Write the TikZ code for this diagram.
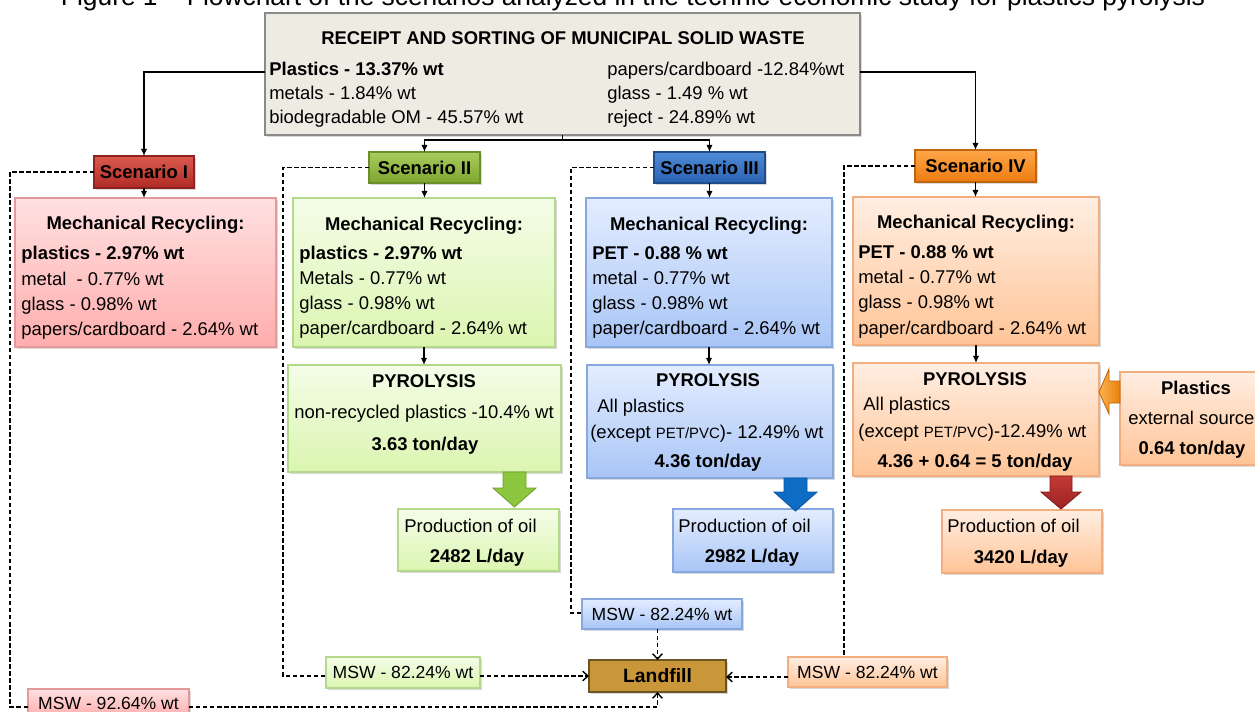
\documentclass[tikz,border=0pt]{standalone}
\usepackage{fontspec}
\setmainfont{Liberation Sans}
\usetikzlibrary{arrows.meta,shadows,fit,calc}
\definecolor{topfill}{HTML}{EEEBE2}\definecolor{topedge}{HTML}{8A8A8A}
\definecolor{redA}{HTML}{DB5B4F}\definecolor{redB}{HTML}{B02A25}\definecolor{redE}{HTML}{8C2320}
\definecolor{grnA}{HTML}{A9CC5E}\definecolor{grnB}{HTML}{7EA52F}\definecolor{grnE}{HTML}{6B8E2A}
\definecolor{bluA}{HTML}{4F8BD6}\definecolor{bluB}{HTML}{2A62B2}\definecolor{bluE}{HTML}{1F4C8A}
\definecolor{orgA}{HTML}{FFA647}\definecolor{orgB}{HTML}{EC7C12}\definecolor{orgE}{HTML}{C0650F}
\definecolor{pinkA}{HTML}{FFE0E0}\definecolor{pinkB}{HTML}{FFADAD}\definecolor{pinkE}{HTML}{E49A9A}
\definecolor{lgA}{HTML}{F4FDE8}\definecolor{lgB}{HTML}{DBF5B0}\definecolor{lgE}{HTML}{B5D98A}
\definecolor{lbA}{HTML}{E4EDFF}\definecolor{lbB}{HTML}{A8C5F6}\definecolor{lbE}{HTML}{86A8DE}
\definecolor{loA}{HTML}{FFEEE2}\definecolor{loB}{HTML}{FFC496}\definecolor{loE}{HTML}{F2AE7E}
\definecolor{land}{HTML}{C9963A}\definecolor{landE}{HTML}{6B5424}
\definecolor{garr}{HTML}{8DC63F}\definecolor{garrE}{HTML}{6FA030}
\definecolor{barr}{HTML}{0E6CC4}
\definecolor{rarrA}{HTML}{C23A33}\definecolor{rarrB}{HTML}{9C2424}
\definecolor{oarrA}{HTML}{FFB24F}\definecolor{oarrB}{HTML}{E8800C}
\begin{document}
\begin{tikzpicture}[x=0.02cm,y=-0.02cm,
  every node/.style={font=\fontsize{10.5}{12}\selectfont},
  box/.style={inner sep=0pt, outer sep=0pt, draw, line width=0.6pt,
    drop shadow={shadow xshift=1.2pt,shadow yshift=-1.2pt,opacity=0.3}},
  topbox/.style={box, draw=topedge, fill=topfill},
  redS/.style={box, draw=redE, top color=redA, bottom color=redB},
  grnS/.style={box, draw=grnE, top color=grnA, bottom color=grnB},
  bluS/.style={box, draw=bluE, top color=bluA, bottom color=bluB},
  orgS/.style={box, draw=orgE, top color=orgA, bottom color=orgB},
  pinkbox/.style={box, draw=pinkE, top color=pinkA, bottom color=pinkB},
  lgbox/.style={box, draw=lgE, top color=lgA, bottom color=lgB},
  lbbox/.style={box, draw=lbE, top color=lbA, bottom color=lbB},
  lobox/.style={box, draw=loE, top color=loA, bottom color=loB},
  mswtxt/.style={inner sep=0pt, anchor=center, font=\fontsize{10}{11}\selectfont},
  ctr/.style={inner sep=0pt, anchor=center, font=\fontsize{10.5}{12}\bfseries},
  tl/.style={inner sep=0pt, anchor=base west},
  tc/.style={inner sep=0pt, anchor=base},
  bf/.style={font=\fontsize{10.5}{12}\bfseries},
  sol/.style={line width=1.1pt, -{Latex[length=4pt,width=3.6pt]}},
  dsh/.style={line width=0.8pt, dash pattern=on 2.5pt off 1.5pt},
  dsharr/.style={dsh, -{Straight Barb[length=3pt,width=5.5pt]}}
]
\useasboundingbox (0,0) rectangle (1255,711);
\clip (0,0) rectangle (1255,711);

% title (cut by the top edge)
\node[tc, font=\fontsize{15}{18}\selectfont] (title) at (633,5.5)
  {Figure 1 -- Flowchart of the scenarios analyzed in the technic-economic study for plastics pyrolysis};

% top box
\node[topbox, fit={(265,13)(860,135)}] (top) {};
\node[tc, bf] (toptitle) at (563,44) {RECEIPT AND SORTING OF MUNICIPAL SOLID WASTE};
\node[tl, bf] (tl1) at (269,75) {Plastics - 13.37\% wt};
\node[tl] (tl2) at (269,99) {metals - 1.84\% wt};
\node[tl] (tl3) at (269,123) {biodegradable OM - 45.57\% wt};
\node[tl] (tr1) at (607,75) {papers/cardboard -12.84\%wt};
\node[tl] (tr2) at (607,99) {glass - 1.49 \% wt};
\node[tl] (tr3) at (607,123) {reject - 24.89\% wt};

% scenario headers
\node[redS, fit={(94,156)(194,188)}] (s1) {};
\node[ctr] (s1t) at (s1.center) {Scenario I};
\node[grnS, fit={(369,152)(480,183)}] (s2) {};
\node[ctr] (s2t) at (s2.center) {Scenario II};
\node[bluS, fit={(654,152)(765,183)}] (s3) {};
\node[ctr] (s3t) at (s3.center) {Scenario III};
\node[orgS, fit={(915,150)(1036,182)}] (s4) {};
\node[ctr] (s4t) at (s4.center) {Scenario IV};

% mechanical recycling boxes
\node[pinkbox, fit={(15,198)(276,347)}] (m1) {};
\node[tc, bf] (m1h) at (145.5,229) {Mechanical Recycling:};
\node[tl, bf] (m1a) at (21,259) {plastics - 2.97\% wt};
\node[tl] (m1b) at (21,285) {metal \ - 0.77\% wt};
\node[tl] (m1c) at (21,310) {glass - 0.98\% wt};
\node[tl] (m1d) at (21,335) {papers/cardboard - 2.64\% wt};

\node[lgbox, fit={(293,198)(555,347)}] (m2) {};
\node[tc, bf] (m2h) at (424,230) {Mechanical Recycling:};
\node[tl, bf] (m2a) at (299,259) {plastics - 2.97\% wt};
\node[tl] (m2b) at (299,284) {Metals - 0.77\% wt};
\node[tl] (m2c) at (299,309) {glass - 0.98\% wt};
\node[tl] (m2d) at (299,334) {paper/cardboard - 2.64\% wt};

\node[lbbox, fit={(586,198)(832,347)}] (m3) {};
\node[tc, bf] (m3h) at (709,230) {Mechanical Recycling:};
\node[tl, bf] (m3a) at (592,259) {PET - 0.88 \% wt};
\node[tl] (m3b) at (592,284) {metal - 0.77\% wt};
\node[tl] (m3c) at (592,309) {glass - 0.98\% wt};
\node[tl] (m3d) at (592,334) {paper/cardboard - 2.64\% wt};

\node[lobox, fit={(853,197)(1099,345)}] (m4) {};
\node[tc, bf] (m4h) at (976,228) {Mechanical Recycling:};
\node[tl, bf] (m4a) at (858,258) {PET - 0.88 \% wt};
\node[tl] (m4b) at (858,283) {metal - 0.77\% wt};
\node[tl] (m4c) at (858,308) {glass - 0.98\% wt};
\node[tl] (m4d) at (858,334) {paper/cardboard - 2.64\% wt};

% pyrolysis boxes
\node[lgbox, fit={(288,365)(561,472)}] (p2) {};
\node[tc, bf] (p2h) at (424,387) {PYROLYSIS};
\node[tc] (p2a) at (424,418) {non-recycled plastics -10.4\% wt};
\node[tc, bf] (p2b) at (425,450) {3.63 ton/day};

\node[lbbox, fit={(587,365)(833,478)}] (p3) {};
\node[tc, bf] (p3h) at (708,386) {PYROLYSIS};
\node[tl] (p3a) at (597,412) {All plastics};
\node[tl] (p3b) at (590,438) {(except {\fontsize{8.5}{10}\selectfont PET/PVC})- 12.49\% wt};
\node[tc, bf] (p3c) at (708,467) {4.36 ton/day};

\node[lobox, fit={(853,363)(1099,476)}] (p4) {};
\node[tc, bf] (p4h) at (975,385) {PYROLYSIS};
\node[tl] (p4a) at (863,410) {All plastics};
\node[tl] (p4b) at (858,437) {(except {\fontsize{8.5}{10}\selectfont PET/PVC})-12.49\% wt};
\node[tc, bf] (p4c) at (975,467) {4.36 + 0.64 = 5 ton/day};

% external source
\node[lobox, fit={(1120,372)(1262,465)}] (ext) {};
\node[tc, bf] (exta) at (1196,394) {Plastics};
\node[tl] (extb) at (1128,424) {external source};
\node[tc, bf] (extc) at (1192,454) {0.64 ton/day};

% production of oil
\node[lgbox, fit={(398,509)(559,571)}] (o2) {};
\node[tl] (o2a) at (404,532) {Production of oil};
\node[tc, bf] (o2b) at (477,562) {2482 L/day};
\node[lbbox, fit={(673,509)(833,572)}] (o3) {};
\node[tl] (o3a) at (678,532) {Production of oil};
\node[tc, bf] (o3b) at (752,562) {2982 L/day};
\node[lobox, fit={(942,510)(1102,573)}] (o4) {};
\node[tl] (o4a) at (947,532) {Production of oil};
\node[tc, bf] (o4b) at (1021,563) {3420 L/day};

% block arrows
\draw[garrE, line width=0.5pt, fill=garr] (503,472)--(526,472)--(526,488)--(536,488)--(514.5,507)--(493,488)--(503,488)--cycle;
\draw[barr!80!black, line width=0.5pt, fill=barr] (784,478)--(807,478)--(807,492)--(817,492)--(795.5,511)--(774,492)--(784,492)--cycle;
\draw[rarrB!80!black, line width=0.5pt, top color=rarrA, bottom color=rarrB] (1050,476)--(1072,476)--(1072,492)--(1081,492)--(1061,509)--(1041,492)--(1050,492)--cycle;
\draw[oarrB!80!black, line width=0.5pt, left color=oarrA, right color=oarrB] (1120,381)--(1109,381)--(1109,369)--(1099,392)--(1109,414)--(1109,403)--(1120,403)--cycle;

% MSW and landfill
\node[lbbox, fit={(582,599)(742,629)}] (ms3) {};
\node[mswtxt] (ms3t) at (ms3.center) {MSW - 82.24\% wt};
\node[lgbox, fit={(326,657)(480,688)}] (ms2) {};
\node[mswtxt] (ms2t) at (ms2.center) {MSW - 82.24\% wt};
\node[lobox, fit={(788,657)(947,687)}] (ms4) {};
\node[mswtxt] (ms4t) at (ms4.center) {MSW - 82.24\% wt};
\node[pinkbox, fit={(28,689)(189,717)}] (ms1) {};
\node[mswtxt] (ms1t) at (ms1.center) {MSW - 92.64\% wt};
\node[box, draw=landE, fill=land, fit={(589,660)(726,692)}] (lf) {};
\node[ctr, font=\fontsize{11}{12}\bfseries] (lft) at (lf.center) {Landfill};

% solid connectors
\coordinate (y72) at (0,72);
\coordinate (j) at (562.5,140);
\draw[sol] (top.west |- y72) -| (s1.north);
\draw[sol] (top.east |- y72) -| (s4.north);
\draw[line width=1.1pt] (top.south) -- (j);
\draw[sol] (j) -| (s2.north);
\draw[sol] (j) -| (s3.north);
\draw[sol] (s1.south) -- (s1.south |- m1.north);
\draw[sol] (s2.south) -- (s2.south |- m2.north);
\draw[sol] (s3.south) -- (s3.south |- m3.north);
\draw[sol] (s4.south) -- (s4.south |- m4.north);
\draw[sol] (m2.south) -- (m2.south |- p2.north);
\draw[sol] (m3.south) -- (m3.south |- p3.north);
\draw[sol] (m4.south) -- (m4.south |- p4.north);

% dashed connectors
\coordinate (d1) at (10,707);
\coordinate (d2) at (283,676);
\coordinate (d3) at (571,613);
\coordinate (d4) at (844,657);
\coordinate (y677) at (0,677);
\draw[dsh] (s1.west) -| (d1) -- (ms1.west |- d1);
\draw[dsharr] (ms1.east |- d1) -| (lf.south);
\draw[dsh] (s2.west) -| (d2) -- (ms2.west |- d2);
\draw[dsharr] (ms2.east |- d2) -- (lf.west |- d2);
\draw[dsh] (s3.west) -| (d3) -- (ms3.west |- d3);
\draw[dsharr] (lf.north |- ms3.south) -- (lf.north);
\draw[dsh] (s4.west) -| (d4);
\draw[dsharr] (ms4.west |- y677) -- (lf.east |- y677);
\end{tikzpicture}
\end{document}
